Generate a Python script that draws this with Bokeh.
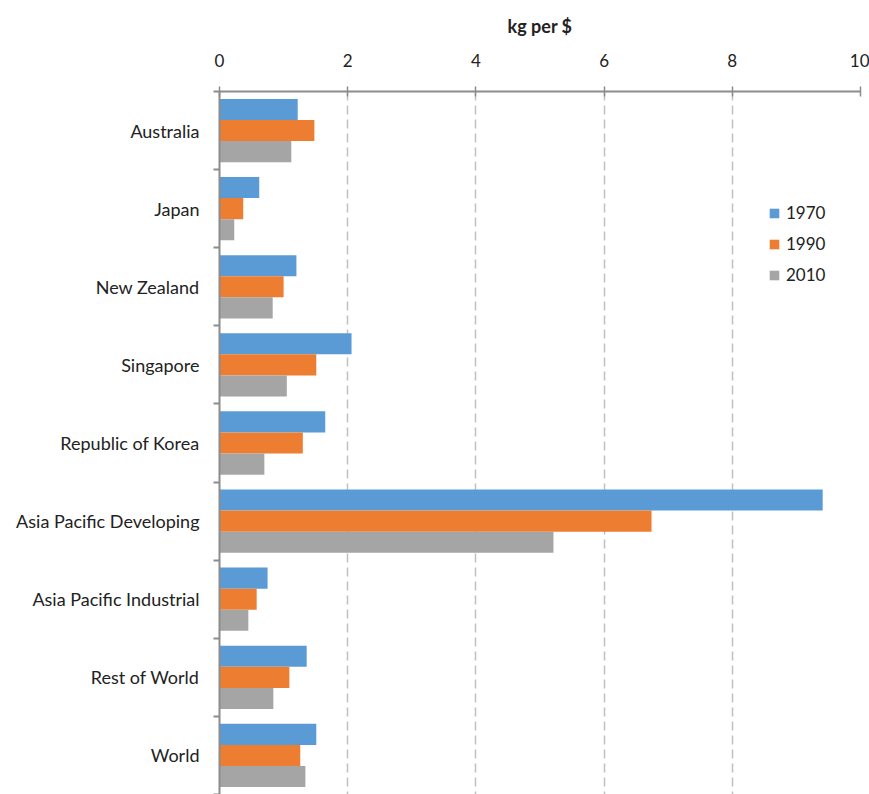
from bokeh.plotting import figure
from bokeh.models import Range1d, FixedTicker, Legend, LegendItem, ColumnDataSource
from bokeh.embed import file_html
from bokeh.resources import INLINE

categories = ["Australia", "Japan", "New Zealand", "Singapore", "Republic of Korea",
              "Asia Pacific Developing", "Asia Pacific Industrial", "Rest of World", "World"]
years = ["1970", "1990", "2010"]
v1970 = [1.22, 0.62, 1.20, 2.06, 1.65, 9.41, 0.75, 1.36, 1.51]
v1990 = [1.48, 0.37, 1.00, 1.51, 1.30, 6.74, 0.58, 1.09, 1.26]
v2010 = [1.12, 0.23, 0.83, 1.05, 0.70, 5.21, 0.45, 0.84, 1.34]
x_ticks = [0, 2, 4, 6, 8, 10]

colors = ["#5B9BD5", "#ED7D31", "#A5A5A5"]
series = [v1970, v1990, v2010]
offsets = [-0.27, 0.0, 0.27]
bar_h = 0.27
FONT = "Lato"

pos = [i + 0.5 for i in range(len(categories))]

p = figure(width=869, height=794, output_backend="svg", toolbar_location=None,
           x_range=Range1d(0, 10), y_range=Range1d(len(categories), 0),
           x_axis_location="above", min_border_left=219, min_border_right=9,
           min_border_top=91, min_border_bottom=0)
p.outline_line_color = None
p.background_fill_color = "white"

renderers = []
for vals, off, col in zip(series, offsets, colors):
    src = ColumnDataSource(dict(y=[q + off for q in pos], right=vals))
    r = p.hbar(y="y", right="right", left=0, height=bar_h, source=src,
               fill_color=col, line_color=None)
    renderers.append(r)

# x axis (top)
xa = p.xaxis[0]
xa.ticker = FixedTicker(ticks=x_ticks)
xa.axis_label = "kg per $"
xa.axis_label_text_font = FONT
xa.axis_label_text_font_style = "bold"
xa.axis_label_text_font_size = "18px"
xa.axis_label_text_color = "#222222"
xa.axis_label_standoff = 14
xa.major_label_text_font = FONT
xa.major_label_text_font_size = "17px"
xa.major_label_text_color = "#222222"
xa.major_label_standoff = 20
xa.axis_line_color = "#8C8C8C"
xa.axis_line_width = 2
xa.major_tick_line_color = "#8C8C8C"
xa.major_tick_line_width = 1.5
xa.major_tick_in = 5
xa.major_tick_out = 5
xa.minor_tick_line_color = None

# y axis (left)
ya = p.yaxis[0]
ya.ticker = FixedTicker(ticks=pos, minor_ticks=list(range(len(categories) + 1)))
ya.major_label_overrides = {q: c for q, c in zip(pos, categories)}
ya.major_label_text_font = FONT
ya.major_label_text_font_size = "18px"
ya.major_label_text_color = "#222222"
ya.major_label_standoff = 14
ya.major_tick_line_color = None
ya.minor_tick_line_color = "#8C8C8C"
ya.minor_tick_line_width = 2
ya.minor_tick_in = 0
ya.minor_tick_out = 6
ya.axis_line_color = "#8C8C8C"
ya.axis_line_width = 2

p.ygrid.grid_line_color = None
p.xgrid.grid_line_color = "#C0C0C0"
p.xgrid.grid_line_width = 1.5
p.xgrid.grid_line_dash = "9 5"

legend = Legend(items=[LegendItem(label=y, renderers=[r]) for y, r in zip(years, renderers)],
                location=(549, 509), orientation="vertical",
                border_line_color=None, background_fill_alpha=0,
                glyph_width=12, glyph_height=12, label_height=20,
                spacing=10, padding=0, margin=0, label_standoff=6,
                label_text_font=FONT, label_text_font_size="17px",
                label_text_color="#222222")
p.add_layout(legend, "center")

open("out.html", "w").write(file_html(p, INLINE))
